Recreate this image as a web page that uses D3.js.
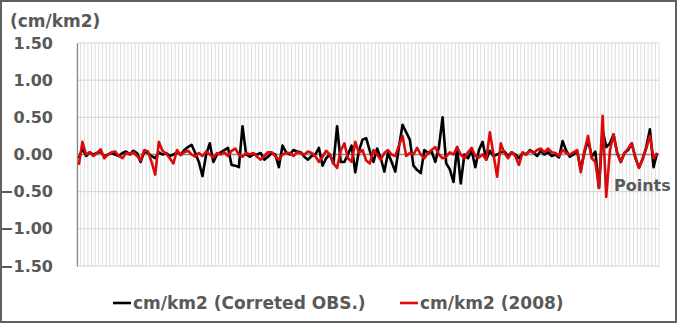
<!DOCTYPE html>
<html>
<head>
<meta charset="utf-8">
<script src="https://cdn.jsdelivr.net/npm/d3@7"></script>
<style>
  body { margin: 0; background: #fff; }
  svg text { font-family: "DejaVu Sans", sans-serif; font-weight: bold; fill: #595959; }
</style>
</head>
<body>
<div id="viz"></div>
<script>
const width = 677,
    height = 324,
    margin = { top: 43, right: 18, bottom: 58, left: 77 };

// values, one per point
const observed = [
    -0.05, 0.08, -0.02, 0.03, 0.00, 0.02, 0.04, -0.03, 0.00, 0.02,
    0.00, -0.02, 0.02, 0.04, 0.00, 0.05, 0.02, -0.10, 0.04, 0.02,
    -0.02, -0.05, 0.03, 0.00, 0.02, -0.02, 0.00, 0.03, 0.00, 0.06,
    0.10, 0.13, 0.02, -0.10, -0.29, 0.00, 0.15, -0.10, 0.00, 0.03,
    0.06, 0.09, -0.14, -0.15, -0.17, 0.38, 0.00, -0.03, 0.00, 0.00,
    0.02, -0.07, -0.03, 0.02, 0.00, -0.17, 0.12, 0.03, 0.00, 0.06,
    0.04, 0.03, -0.03, -0.07, -0.02, 0.00, 0.09, -0.15, -0.05, 0.00,
    -0.12, 0.38, -0.10, -0.10, 0.00, 0.12, -0.24, 0.05, 0.20, 0.22,
    0.05, -0.10, 0.08, -0.05, -0.23, 0.02, -0.10, -0.23, 0.10, 0.40,
    0.30, 0.20, -0.15, -0.21, -0.25, 0.06, 0.02, 0.04, -0.10, 0.10,
    0.50, -0.12, -0.20, -0.37, 0.10, -0.39, 0.00, -0.05, 0.05, -0.17,
    0.06, 0.17, -0.07, 0.05, -0.02, 0.00, 0.03, 0.04, -0.02, 0.03,
    0.00, -0.05, 0.02, 0.00, 0.06, 0.03, -0.02, 0.05, 0.00, 0.03,
    -0.02, 0.00, -0.04, 0.18, 0.05, -0.03, 0.00, 0.04, -0.20, 0.03,
    0.20, -0.03, 0.04, -0.45, 0.33, 0.10, 0.15, 0.27, 0.02, -0.10,
    0.02, 0.06, 0.15, -0.04, -0.18, -0.06, 0.10, 0.34, -0.17, 0.02
];

const model2008 = [
    -0.14, 0.17, 0.00, 0.03, -0.02, 0.02, 0.07, -0.05, 0.00, 0.03,
    0.04, -0.02, -0.05, 0.02, 0.01, 0.03, -0.02, -0.08, 0.06, 0.04,
    -0.10, -0.27, 0.17, 0.05, 0.01, -0.05, -0.12, 0.06, -0.01, 0.03,
    0.05, 0.00, -0.03, 0.02, -0.02, 0.04, 0.00, -0.04, 0.02, 0.00,
    0.03, -0.02, 0.05, 0.08, 0.00, -0.03, 0.02, 0.00, 0.02, -0.03,
    -0.07, -0.02, 0.03, 0.03, -0.02, -0.07, 0.00, 0.02, 0.02, -0.02,
    0.03, 0.02, 0.00, 0.04, 0.02, -0.02, -0.10, -0.03, 0.05, 0.00,
    -0.12, -0.18, 0.05, 0.15, -0.05, -0.10, 0.17, 0.02, 0.06, -0.08,
    -0.12, 0.06, 0.00, -0.07, 0.02, 0.06, 0.00, -0.02, 0.12, 0.25,
    -0.02, 0.02, 0.00, 0.09, 0.00, -0.05, 0.02, 0.06, 0.10, 0.00,
    -0.05, -0.03, 0.03, 0.00, 0.10, 0.00, -0.05, 0.03, 0.09, -0.02,
    -0.04, 0.00, -0.07, 0.30, 0.00, -0.30, 0.15, 0.02, -0.05, 0.03,
    -0.02, -0.14, 0.03, 0.00, 0.05, 0.02, 0.06, 0.08, 0.03, 0.08,
    0.03, 0.02, -0.02, 0.06, 0.02, 0.00, 0.03, 0.06, -0.24, 0.05,
    0.25, -0.05, -0.10, -0.45, 0.52, -0.57, 0.05, 0.27, 0.02, -0.10,
    0.02, 0.08, 0.15, -0.04, -0.18, -0.06, 0.08, 0.25, -0.05, 0.02
];

const points = d3.range(1, observed.length + 1);
const yTicks = [-1.5, -1.0, -0.5, 0, 0.5, 1.0, 1.5];

const series = [
    { name: "cm/km2 (Correted OBS.)", values: observed, color: "#000000" },
    { name: "cm/km2 (2008)", values: model2008, color: "#dc0a0a" }
];

const svg = d3.select("#viz").append("svg")
    .attr("width", width)
    .attr("height", height);

// outer frame
svg.append("rect")
    .attr("x", 1).attr("y", 1)
    .attr("width", width - 2).attr("height", height - 3)
    .attr("fill", "#fff")
    .attr("stroke", "#606060")
    .attr("stroke-width", 2);

const x = d3.scaleBand()
    .domain(points)
    .range([margin.left, width - margin.right]);

const y = d3.scaleLinear()
    .domain([-1.5, 1.5])
    .range([height - margin.bottom, margin.top]);

// vertical grid, one line per point boundary
svg.append("g")
    .selectAll("line")
    .data(points.concat([null]))
    .join("line")
    .attr("x1", d => d === null ? x.range()[1] : x(d))
    .attr("x2", d => d === null ? x.range()[1] : x(d))
    .attr("y1", y(1.5))
    .attr("y2", y(-1.5))
    .attr("stroke", "#dedede")
    .attr("stroke-width", 1);

// horizontal grid
svg.append("g")
    .selectAll("line")
    .data(yTicks)
    .join("line")
    .attr("x1", x.range()[0])
    .attr("x2", x.range()[1])
    .attr("y1", d => y(d))
    .attr("y2", d => y(d))
    .attr("stroke", d => d === 0 ? "#8c8c8c" : "#d4d4d4")
    .attr("stroke-width", d => d === 0 ? 1.5 : 1);

// y axis
const yAxis = d3.axisLeft(y)
    .tickValues(yTicks)
    .tickFormat(d3.format(".2f"))
    .tickSize(0)
    .tickPadding(24);

const gy = svg.append("g")
    .attr("transform", "translate(" + margin.left + ",0)")
    .call(yAxis);

gy.select(".domain").attr("stroke", "#868686").attr("stroke-width", 1.2);
gy.selectAll("text")
    .style("font-size", "16px")
    .attr("fill", "#595959");

// unit title
svg.append("text")
    .attr("x", 10)
    .attr("y", 27)
    .style("font-size", "17px")
    .text("(cm/km2)");

// lines
const line = d3.line()
    .x((d, i) => x(points[i]) + x.bandwidth() / 2)
    .y(d => y(d));

svg.append("g")
    .selectAll("path")
    .data(series)
    .join("path")
    .attr("d", d => line(d.values))
    .attr("fill", "none")
    .attr("stroke", d => d.color)
    .attr("stroke-width", 2.6)
    .attr("stroke-linejoin", "round");

// x axis title sits inside the plot
svg.append("text")
    .attr("x", 614)
    .attr("y", 191)
    .style("font-size", "16px")
    .text("Points");

// legend
const legendPos = [113, 400];
const legend = svg.append("g")
    .selectAll("g")
    .data(series)
    .join("g")
    .attr("transform", (d, i) => "translate(" + legendPos[i] + ",303)");

legend.append("line")
    .attr("x1", 0).attr("x2", 18)
    .attr("stroke", d => d.color)
    .attr("stroke-width", 2.6);

legend.append("text")
    .attr("x", 20)
    .attr("y", 6)
    .style("font-size", "17px")
    .text(d => d.name);
</script>
</body>
</html>
